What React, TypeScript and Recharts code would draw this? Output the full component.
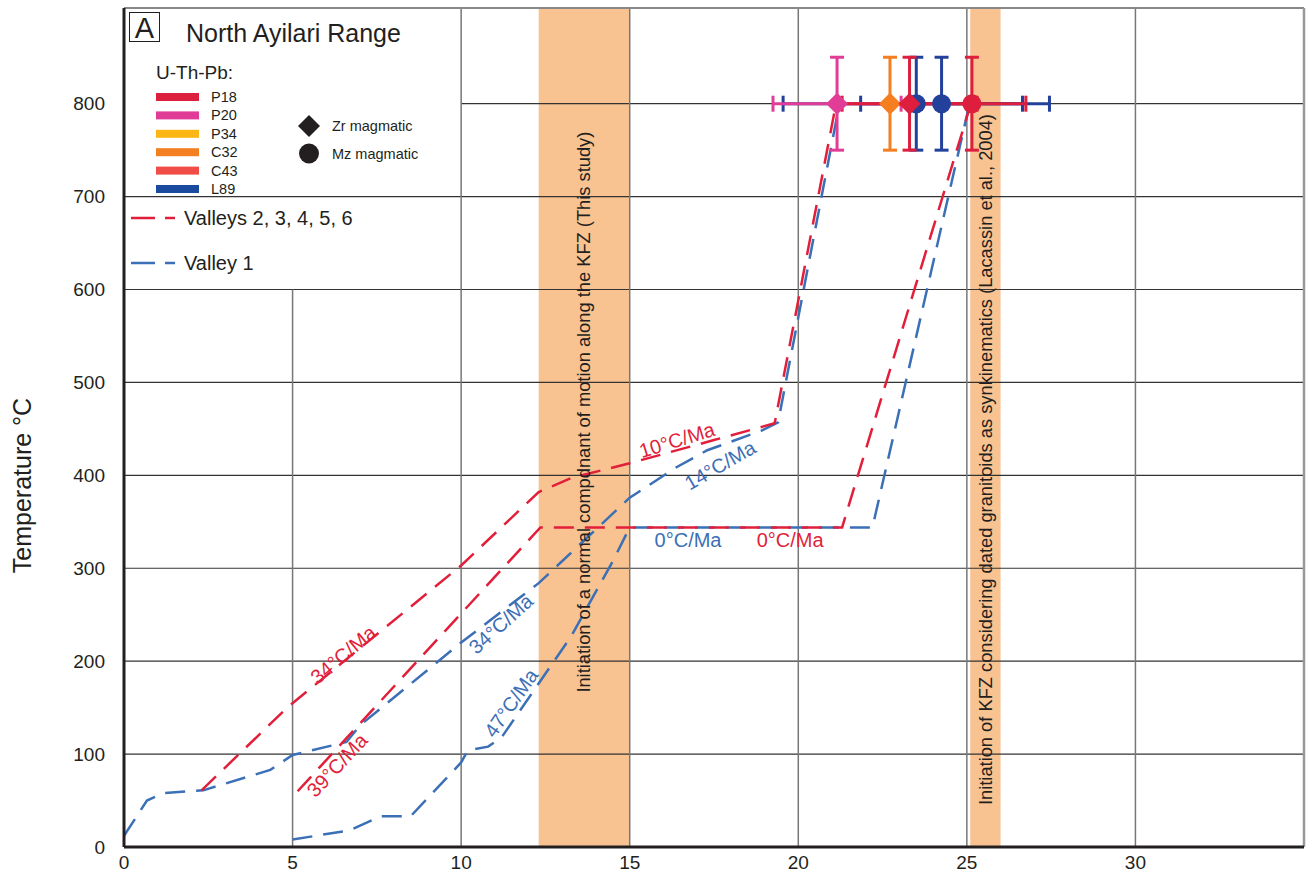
import React from 'react';
import {
  ComposedChart,
  Line,
  Scatter,
  ErrorBar,
  XAxis,
  YAxis,
  ReferenceLine,
  ReferenceArea,
  ReferenceDot,
} from 'recharts';

const FONT = '"Liberation Sans", Arial, Helvetica, sans-serif';
const INK = '#231F20';

const xTicks = [0, 5, 10, 15, 20, 25, 30];
const yTicks = [0, 100, 200, 300, 400, 500, 600, 700, 800];

// Valleys 2, 3, 4, 5, 6 (red)
const redUpper = [
  { x: 2.3, y: 61 }, { x: 4.84, y: 150 }, { x: 10, y: 303 }, { x: 12.3, y: 382 },
  { x: 13.25, y: 397 }, { x: 15, y: 413 }, { x: 17.5, y: 438 }, { x: 19.3, y: 456 },
  { x: 21.12, y: 800 },
];
const redLower = [
  { x: 5.15, y: 60 }, { x: 12.35, y: 344 }, { x: 21.3, y: 344 }, { x: 25.12, y: 800 },
];

// Valley 1 (blue)
const blueUpper = [
  { x: 0, y: 12 }, { x: 0.68, y: 50 }, { x: 1.16, y: 58 }, { x: 2.35, y: 61 },
  { x: 4.34, y: 83 }, { x: 5, y: 99 }, { x: 6.6, y: 113 }, { x: 7, y: 131 },
  { x: 10, y: 220 }, { x: 12.3, y: 284 }, { x: 15, y: 376 }, { x: 16.4, y: 409 },
  { x: 17.3, y: 427 }, { x: 18.9, y: 448 }, { x: 19.4, y: 457 }, { x: 21.2, y: 796 },
];
const blueLower = [
  { x: 5, y: 8 }, { x: 6.7, y: 18 }, { x: 7.6, y: 33 }, { x: 8.5, y: 33 },
  { x: 10, y: 91 }, { x: 10.2, y: 104 }, { x: 10.8, y: 108 }, { x: 11.2, y: 118 },
  { x: 13.25, y: 226 }, { x: 14.52, y: 309 }, { x: 15, y: 344 }, { x: 22.2, y: 344 },
  { x: 25.05, y: 795 },
];

// U-Th-Pb ages (Ma) at 800 °C, with x and y errors
const zrP20 = [{ x: 21.15, y: 800, ex: 1.9, ey: 50 }];
const zrC32 = [{ x: 22.72, y: 800, ey: 50 }];
const zrP18 = [{ x: 23.3, y: 800, ex: 2.0, ey: 50 }];
const mzL89 = [
  { x: 23.5, y: 800, ex: 3.95, ey: 50 },
  { x: 24.25, y: 800, ex: 2.4, ey: 50 },
];
const mzP18 = [{ x: 25.15, y: 800, ex: 1.6, ey: 50 }];

const legendSamples = ['P18', 'P20', 'P34', 'C32', 'C43', 'L89'];
const legendColors = ['#DB1F3D', '#E03C97', '#FDB714', '#F47F21', '#EF4D45', '#1B4B9E'];

const bands = [
  { x1: 12.3, x2: 15, text: 'Initiation of a normal compdnant of motion along the KFZ (This study)', tx: 13.62, ty: 468 },
  { x1: 25.1, x2: 26, text: 'Initiation of KFZ considering dated granitoids as synkinematics (Lacassin et al., 2004)', tx: 25.54, ty: 417 },
];

const RED = '#E21F3B';
const BLUE = '#3B6FB6';

const rateLabels = [
  { text: '34°C/Ma', color: RED, x: 6.5, y: 207, angle: -40 },
  { text: '39°C/Ma', color: RED, x: 6.32, y: 88, angle: -47 },
  { text: '34°C/Ma', color: BLUE, x: 11.18, y: 240, angle: -42 },
  { text: '47°C/Ma', color: BLUE, x: 11.48, y: 155, angle: -55 },
  { text: '10°C/Ma', color: RED, x: 16.4, y: 438, angle: -17 },
  { text: '14°C/Ma', color: BLUE, x: 17.68, y: 411, angle: -30 },
  { text: '0°C/Ma', color: BLUE, x: 16.73, y: 330, angle: 0 },
  { text: '0°C/Ma', color: RED, x: 19.76, y: 330, angle: 0 },
];

const rotText = (text: string, color: string, angle: number, size: number) => (props: any) => {
  const vb = props.viewBox || {};
  const cx = (vb.x || 0) + (vb.width || 0) / 2;
  const cy = (vb.y || 0) + (vb.height || 0) / 2;
  return (
    <text
      x={cx}
      y={cy}
      transform={`rotate(${angle} ${cx} ${cy})`}
      textAnchor="middle"
      dominantBaseline="central"
      fill={color}
      fontSize={size}
      fontFamily={FONT}
    >
      {text}
    </text>
  );
};

const Diamond = (props: any) => {
  const { cx, cy, fill } = props;
  const r = 11;
  return <polygon points={`${cx},${cy - r} ${cx + r},${cy} ${cx},${cy + r} ${cx - r},${cy}`} fill={fill} />;
};

const Circle = (props: any) => <circle cx={props.cx} cy={props.cy} r={9.5} fill={props.fill} />;

const gridH = '#333';
const gridV = '#777';

function Legend() {
  return (
    <svg
      width={1311}
      height={881}
      style={{ position: 'absolute', left: 0, top: 0, pointerEvents: 'none' }}
      fontFamily={FONT}
    >
      <rect x={129.5} y={12.5} width={30} height={29} fill="#fff" stroke={INK} strokeWidth={1} />
      <text x={144.5} y={38} textAnchor="middle" fontSize={29} fill={INK}>A</text>
      <text x={186} y={42} fontSize={25} fill={INK}>North Ayilari Range</text>
      <text x={156} y={79} fontSize={19} fill={INK}>U-Th-Pb:</text>
      {legendSamples.map((s, i) => {
        const cy = 97 + i * 18.4;
        return (
          <g key={s}>
            <rect x={156} y={cy - 4} width={43} height={8} fill={legendColors[i]} />
            <text x={211} y={cy + 5} fontSize={14.5} fill={INK}>{s}</text>
          </g>
        );
      })}
      <polygon points="309,115 320,126 309,137 298,126" fill={INK} />
      <text x={332} y={131} fontSize={14.5} fill={INK}>Zr magmatic</text>
      <circle cx={309} cy={153.5} r={10} fill={INK} />
      <text x={332} y={159} fontSize={14.5} fill={INK}>Mz magmatic</text>
      <line x1={131} y1={218} x2={155} y2={218} stroke={RED} strokeWidth={2.5} />
      <line x1={165} y1={218} x2={175} y2={218} stroke={RED} strokeWidth={2.5} />
      <text x={184} y={225} fontSize={20} fill={INK}>Valleys 2, 3, 4, 5, 6</text>
      <line x1={131} y1={263} x2={155} y2={263} stroke={BLUE} strokeWidth={2.5} />
      <line x1={165} y1={263} x2={175} y2={263} stroke={BLUE} strokeWidth={2.5} />
      <text x={184} y={270} fontSize={20} fill={INK}>Valley 1</text>
    </svg>
  );
}

export default function App() {
  const dash = '20 11';
  return (
    <div style={{ position: 'absolute', left: 0, top: 0, width: 1311, height: 881, background: '#fff' }}>
      <ComposedChart width={1311} height={881} margin={{ top: 8, right: 7, bottom: 0, left: 0 }}>
        <XAxis
          type="number"
          dataKey="x"
          domain={[0, 35]}
          ticks={xTicks}
          interval={0}
          tickLine={false}
          tickSize={0}
          tickMargin={9}
          height={34}
          axisLine={{ stroke: INK, strokeWidth: 3 }}
          tick={{ fontSize: 19, fill: INK, fontFamily: FONT }}
          allowDataOverflow
        />
        <YAxis
          type="number"
          dataKey="y"
          domain={[0, 903]}
          ticks={yTicks}
          interval={0}
          tickLine={false}
          tickSize={0}
          tickMargin={19}
          width={124}
          axisLine={{ stroke: INK, strokeWidth: 3 }}
          tick={{ fontSize: 19, fill: INK, fontFamily: FONT }}
          allowDataOverflow
          label={{
            content: (p: any) => {
              const vb = p.viewBox || { x: 0, y: 8, width: 124, height: 839 };
              const x = vb.x + 22;
              const y = vb.y + vb.height / 2 + 58;
              return (
                <text x={x} y={y} transform={`rotate(-90 ${x} ${y})`} textAnchor="middle" dominantBaseline="central" fontSize={25} fill={INK} fontFamily={FONT}>
                  Temperature °C
                </text>
              );
            },
          }}
        />

        {/* grid */}
        {[100, 200, 300, 400, 500, 600, 700].map((v) => (
          <ReferenceLine key={'h' + v} y={v} stroke={gridH} strokeWidth={1.2} />
        ))}
        <ReferenceLine segment={[{ x: 10, y: 800 }, { x: 35, y: 800 }]} stroke={gridH} strokeWidth={1.2} />
        <ReferenceLine segment={[{ x: 5, y: 0 }, { x: 5, y: 600 }]} stroke={gridV} strokeWidth={1.5} />
        {[10, 15, 20, 25, 30].map((v) => (
          <ReferenceLine key={'v' + v} x={v} stroke={gridV} strokeWidth={1.5} />
        ))}
        <ReferenceLine y={903} stroke="#888" strokeWidth={2} />
        <ReferenceLine x={35} stroke="#999" strokeWidth={2.5} />

        {/* time windows */}
        {bands.map((b, i) => (
          <ReferenceArea key={'b' + i} x1={b.x1} x2={b.x2} y1={0} y2={903} fill="#F8BE89" fillOpacity={0.93} stroke="none" />
        ))}
        {bands.map((b, i) => (
          <ReferenceDot
            key={'bt' + i}
            x={b.tx}
            y={b.ty}
            r={0}
            fill="none"
            stroke="none"
            label={rotText(b.text, INK, -90, 18.3)}
          />
        ))}

        {/* thermal paths */}
        <Line data={blueUpper} dataKey="y" type="linear" stroke={BLUE} strokeWidth={2.5} strokeDasharray={dash} dot={false} activeDot={false} isAnimationActive={false} />
        <Line data={blueLower} dataKey="y" type="linear" stroke={BLUE} strokeWidth={2.5} strokeDasharray={dash} dot={false} activeDot={false} isAnimationActive={false} />
        <Line data={redUpper} dataKey="y" type="linear" stroke={RED} strokeWidth={2.5} strokeDasharray={dash} dot={false} activeDot={false} isAnimationActive={false} />
        <Line data={redLower} dataKey="y" type="linear" stroke={RED} strokeWidth={2.5} strokeDasharray={dash} dot={false} activeDot={false} isAnimationActive={false} />

        {rateLabels.map((l, i) => (
          <ReferenceDot
            key={'rl' + i}
            x={l.x}
            y={l.y}
            r={0}
            fill="none"
            stroke="none"
            label={rotText(l.text, l.color, l.angle, 20)}
          />
        ))}

        {/* geochronology */}
        <Scatter data={mzL89} dataKey="y" fill="#23409A" shape={Circle} isAnimationActive={false}>
          <ErrorBar dataKey="ex" direction="x" width={8} stroke="#23409A" strokeWidth={3} />
          <ErrorBar dataKey="ey" direction="y" width={7} stroke="#23409A" strokeWidth={3} />
        </Scatter>
        <Scatter data={zrC32} dataKey="y" fill="#F47E20" shape={Diamond} isAnimationActive={false}>
          <ErrorBar dataKey="ey" direction="y" width={7} stroke="#F47E20" strokeWidth={3} />
        </Scatter>
        <Scatter data={zrP20} dataKey="y" fill="#E13D97" shape={Diamond} isAnimationActive={false}>
          <ErrorBar dataKey="ex" direction="x" width={8} stroke="#E13D97" strokeWidth={3} />
          <ErrorBar dataKey="ey" direction="y" width={7} stroke="#E13D97" strokeWidth={3} />
        </Scatter>
        <Scatter data={zrP18} dataKey="y" fill="#DD1E3D" shape={Diamond} isAnimationActive={false}>
          <ErrorBar dataKey="ex" direction="x" width={8} stroke="#DD1E3D" strokeWidth={3} />
          <ErrorBar dataKey="ey" direction="y" width={7} stroke="#DD1E3D" strokeWidth={3} />
        </Scatter>
        <Scatter data={mzP18} dataKey="y" fill="#DD1E3D" shape={Circle} isAnimationActive={false}>
          <ErrorBar dataKey="ex" direction="x" width={8} stroke="#DD1E3D" strokeWidth={3} />
          <ErrorBar dataKey="ey" direction="y" width={7} stroke="#DD1E3D" strokeWidth={3} />
        </Scatter>
      </ComposedChart>
      <Legend />
    </div>
  );
}
